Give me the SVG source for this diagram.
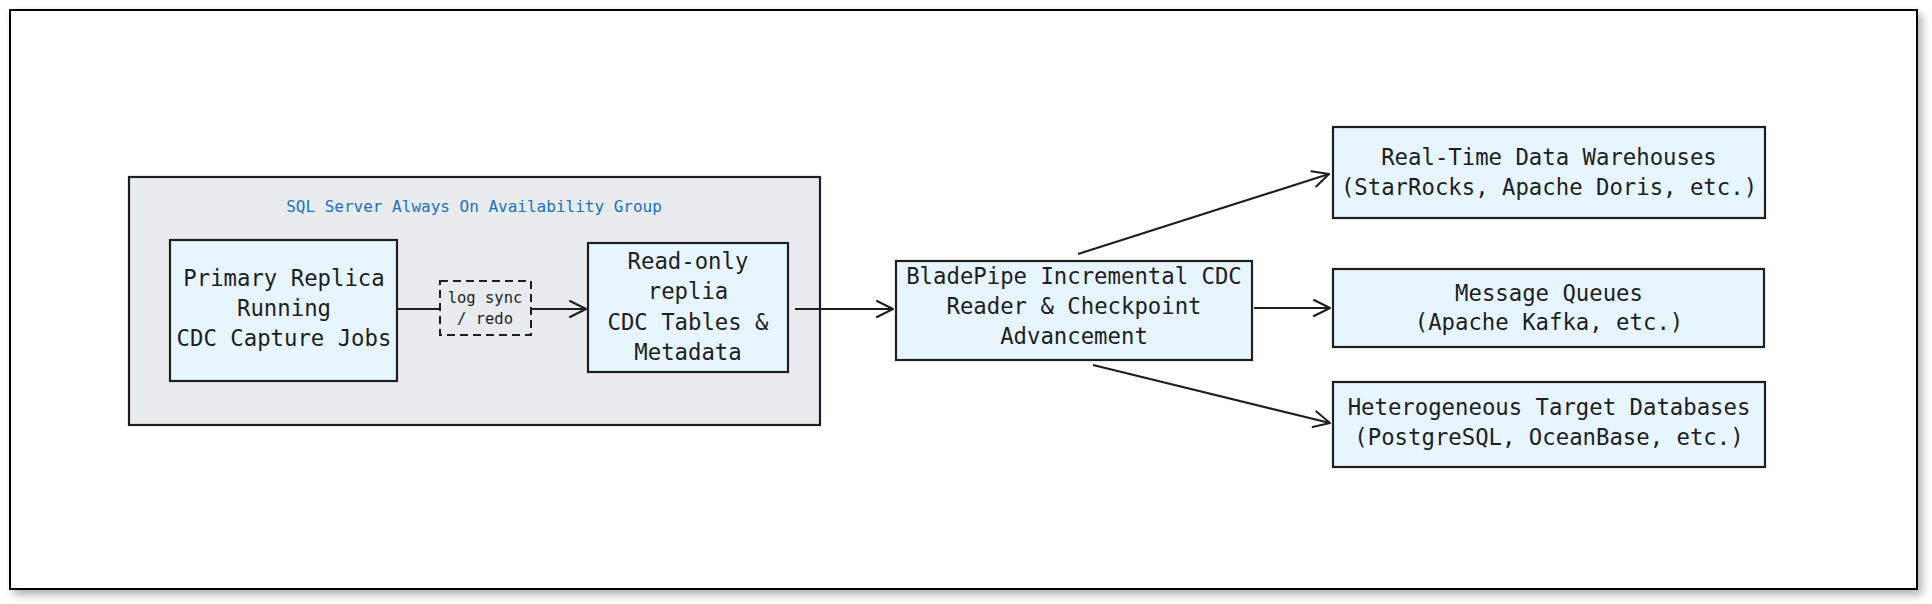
<svg xmlns="http://www.w3.org/2000/svg" width="1932" height="604" viewBox="0 0 1932 604">
<defs>
<filter id="sh" x="-5%" y="-5%" width="110%" height="115%">
<feDropShadow dx="4" dy="5" stdDeviation="4" flood-color="#000" flood-opacity="0.3"/>
</filter>
<marker id="arr" viewBox="0 0 20 20" refX="18" refY="10" markerWidth="20" markerHeight="20" markerUnits="userSpaceOnUse" orient="auto">
<path d="M2,2 L18,10 L2,18" fill="none" stroke="#1e1e1e" stroke-width="2" stroke-linecap="round" stroke-linejoin="round"/>
</marker>
</defs>
<style>
.node{fill:#e7f5ff;stroke:#1e1e1e;stroke-width:2.2}
.t{font-family:"DejaVu Sans Mono","Liberation Mono",monospace;font-size:22.3px;fill:#1e1e1e;text-anchor:middle}
.s{font-family:"DejaVu Sans Mono","Liberation Mono",monospace;font-size:15.5px;fill:#1e1e1e;text-anchor:middle}
.g{font-family:"DejaVu Sans Mono","Liberation Mono",monospace;font-size:16px;fill:#1971c2;text-anchor:middle}
.c{fill:none;stroke:#1e1e1e;stroke-width:2.2;marker-end:url(#arr)}
</style>
<rect x="0" y="0" width="1932" height="604" fill="#ffffff"/>
<rect x="10" y="10" width="1907" height="579" fill="#ffffff" stroke="#000" stroke-width="2" filter="url(#sh)"/>
<g id="group">
<rect x="129" y="177" width="691" height="248" fill="#e9ecef" stroke="#1e1e1e" stroke-width="2.2"/>
<text class="g" x="474" y="212">SQL Server Always On Availability Group</text>
</g>
<g id="primary">
<rect class="node" x="170" y="240" width="227" height="141"/>
<text class="t" x="284" y="286">Primary Replica</text>
<text class="t" x="284" y="316">Running</text>
<text class="t" x="284" y="346">CDC Capture Jobs</text>
</g>
<g id="readonly">
<rect class="node" x="588" y="243" width="200" height="129"/>
<text class="t" x="688" y="269">Read-only</text>
<text class="t" x="688" y="299">replia</text>
<text class="t" x="688" y="330">CDC Tables &amp;</text>
<text class="t" x="688" y="360">Metadata</text>
</g>
<g id="bladepipe">
<rect class="node" x="896" y="261" width="356" height="99"/>
<text class="t" x="1074" y="284">BladePipe Incremental CDC</text>
<text class="t" x="1074" y="314">Reader &amp; Checkpoint</text>
<text class="t" x="1074" y="344">Advancement</text>
</g>
<g id="warehouses">
<rect class="node" x="1333" y="127" width="432" height="91"/>
<text class="t" x="1549" y="165">Real-Time Data Warehouses</text>
<text class="t" x="1549" y="195">(StarRocks, Apache Doris, etc.)</text>
</g>
<g id="mq">
<rect class="node" x="1333" y="269" width="431" height="78"/>
<text class="t" x="1549" y="301">Message Queues</text>
<text class="t" x="1549" y="330">(Apache Kafka, etc.)</text>
</g>
<g id="hetero">
<rect class="node" x="1333" y="382" width="432" height="85"/>
<text class="t" x="1549" y="415">Heterogeneous Target Databases</text>
<text class="t" x="1549" y="445">(PostgreSQL, OceanBase, etc.)</text>
</g>
<g id="connectors">
<line x1="397" y1="309" x2="440" y2="309" stroke="#1e1e1e" stroke-width="2.2"/>
<rect x="440" y="281" width="91" height="54" fill="none" stroke="#1e1e1e" stroke-width="2" stroke-dasharray="8 5"/>
<text class="s" x="485" y="303">log sync</text>
<text class="s" x="485" y="324">/ redo</text>
<path class="c" d="M531,309 L586,309"/>
<path class="c" d="M795,309 L893,309"/>
<path class="c" d="M1078,254 L1329,174"/>
<path class="c" d="M1254,308 L1330,308"/>
<path class="c" d="M1093,365 L1330,423"/>
</g>
</svg>
